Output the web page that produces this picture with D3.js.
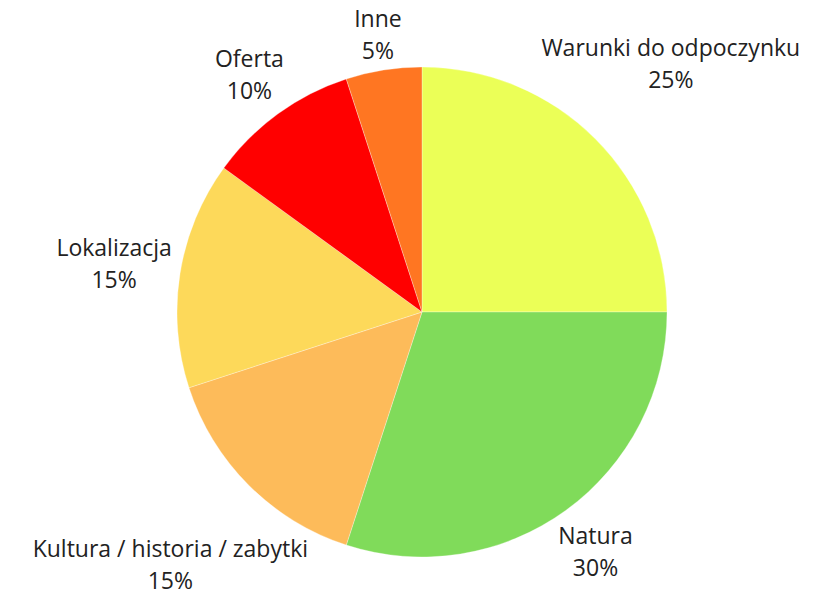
<!DOCTYPE html>
<html>
<head>
<meta charset="utf-8">
<script src="https://cdn.jsdelivr.net/npm/d3@7"></script>
<style>
  body { margin: 0; background: #fff; }
  svg text { font-family: "Open Sans", sans-serif; font-size: 23px; fill: #222; }
</style>
</head>
<body>
<svg width="820" height="597"></svg>
<script>
const labels = ["Warunki do odpoczynku", "Natura", "Kultura / historia / zabytki", "Lokalizacja", "Oferta", "Inne"];
const values = [25, 30, 15, 15, 10, 5];
const colors = ["#ebff57", "#80db5a", "#fdbb5a", "#fdd95a", "#ff0000", "#ff7622"];

const svg = d3.select("svg");
const cx = 422, cy = 312, radius = 245;
const lineH = 32;

const pie = d3.pie().sort(null).value(d => d.value);
const arc = d3.arc().innerRadius(0).outerRadius(radius);

const data = labels.map((l, i) => ({ label: l, value: values[i], color: colors[i] }));
const arcs = pie(data);

const g = svg.append("g").attr("transform", `translate(${cx},${cy})`);

g.selectAll("path")
  .data(arcs)
  .enter().append("path")
  .attr("d", arc)
  .attr("fill", d => d.data.color)
  .attr("stroke", "#fff")
  .attr("stroke-width", 0.5)
  .attr("stroke-opacity", 0.6);

const total = d3.sum(values);
const labelG = g.append("g");

arcs.forEach(d => {
  const t = labelG.append("text").attr("text-anchor", "middle");
  t.append("tspan").attr("x", 0).attr("y", -lineH / 2 + 7).text(d.data.label);
  t.append("tspan").attr("x", 0).attr("y", lineH / 2 + 7).text(Math.round(d.data.value / total * 100) + "%");

  // place label along the mid angle so its nearest corner touches a circle just outside the pie
  const bb = t.node().getBBox();
  const mid = (d.startAngle + d.endAngle) / 2;
  const ux = Math.sin(mid), uy = -Math.cos(mid);
  const ox = -Math.sign(ux) * bb.width / 2;
  const oy = -Math.sign(uy) * (bb.height / 2 - 4);
  const rl = radius + 6;
  const uo = ux * ox + uy * oy;
  const dist = -uo + Math.sqrt(uo * uo - (ox * ox + oy * oy) + rl * rl);
  t.attr("transform", `translate(${ux * dist},${uy * dist + 2})`);
});
</script>
</body>
</html>
